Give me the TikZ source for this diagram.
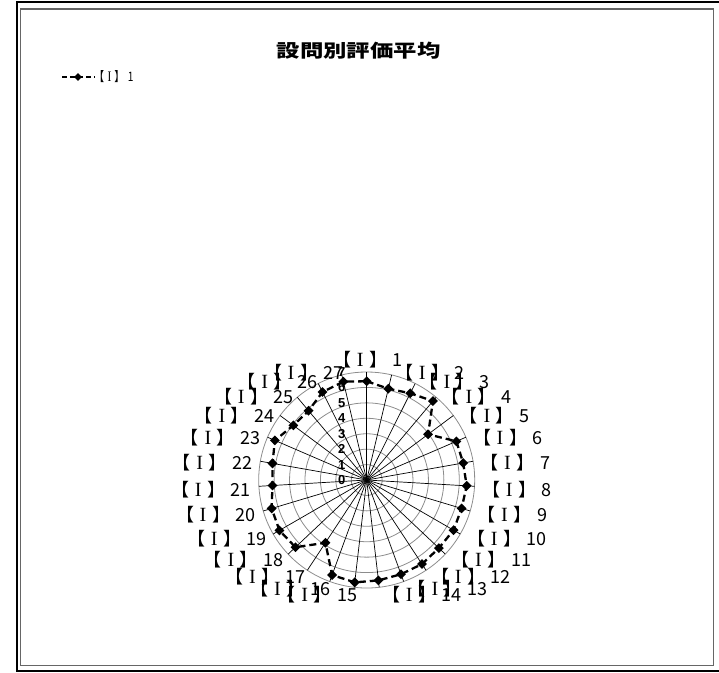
\documentclass[tikz,border=0pt]{standalone}
\usepackage{fontspec}
\usepackage{graphicx}
\usetikzlibrary{shapes.geometric}
\newfontfamily\jp[WordSpace=2.0]{Noto Sans CJK JP}
\newfontfamily\jpleg[WordSpace=1.4]{Noto Sans CJK JP}
\newfontfamily\arialfont{Liberation Sans}
\newfontfamily\serifI{Liberation Serif}
\newcommand\romI{\makebox[1em][c]{\scalebox{1.12}{\serifI I}}}
\begin{document}
\begin{tikzpicture}[x=1pt,y=-1pt,
  lab/.style={font=\jp\fontsize{18}{18}\selectfont, inner sep=0pt},
  legtxt/.style={font=\jpleg\fontsize{13}{13}\selectfont, inner sep=0pt, anchor=west},
  tick/.style={font=\arialfont\bfseries\fontsize{13}{13}\selectfont, inner sep=0pt, anchor=east},
  ring/.style={draw=black!45, line width=0.8pt},
  spoke/.style={draw=black, line width=0.7pt},
  series/.style={line width=2.3pt, dash pattern=on 7pt off 4pt},
  mk/.style={diamond, fill=black, inner sep=0pt, minimum width=10pt, minimum height=10pt},
  frame/.style={draw=black, line width=2pt},
  innerframe/.style={draw=black!60, line width=1.3pt}]
\useasboundingbox (0,0) rectangle (719,672);
\draw[frame] (16.7,2.3) rectangle (725,671);
\draw[innerframe] (20.5,9) rectangle (713.3,665.5);
% title and legend
\node[font=\jp\bfseries\fontsize{18}{18}\selectfont, inner sep=0pt] (title) at (358.5,51) {\scalebox{1.3}[1]{設問別評価平均}};
\coordinate (la) at (62,77);
\coordinate (lb) at (95,77);
\draw[series, line width=2pt, dash pattern=on 5pt off 3pt] (la) -- (lb);
\node[mk, minimum width=8pt, minimum height=8pt] (lm) at (78,77) {};
\node[legtxt] (legtext) at (94,77) {\scalebox{0.78}[1]{【\romI】 1}};
% radar grid
\coordinate (C) at (366.7,480);
\foreach \i in {1,...,7} \draw[ring] (C) circle ({\i*15.43});
\foreach \k in {1,...,27} {
  \pgfmathsetmacro\a{90-(\k-1)*360/27}
  \draw[spoke] (C) -- ({366.7+108*cos(\a)},{480-108*sin(\a)});
}
\foreach \i in {0,...,7} \node[tick] (t\i) at (345.5,{480-\i*15.43}) {\i};
% data
\foreach \k/\v in {1/6.4,2/6.08,3/6.29,4/6.68,5/4.96,6/6.33,7/6.35,8/6.49,9/6.42,10/6.5,11/6.43,12/6.52,13/6.5,14/6.55,15/6.68,16/6.55,17/4.87,18/6.35,19/6.53,20/6.43,21/6.12,22/6.2,23/6.48,24/5.93,25/5.86,26/6.38,27/6.55} {
  \pgfmathsetmacro\a{90-(\k-1)*360/27}
  \coordinate (p\k) at ({366.7+\v*15.43*cos(\a)},{480-\v*15.43*sin(\a)});
}
\draw[series] (p1) \foreach \k in {2,...,27} { -- (p\k) } -- cycle;
\foreach \k in {1,...,27} \node[mk] (m\k) at (p\k) {};
% category labels
\node[lab] (l1) at (368,360) {【\romI】 1};
\foreach \k in {2,...,14} {
  \pgfmathsetmacro\a{90-(\k-1)*360/27}
  \node[lab, anchor=west] (l\k) at ({369+113.1*cos(\a)},{482.6-112.8*sin(\a)}) {【\romI】 \k};
}
\foreach \k in {15,...,27} {
  \pgfmathsetmacro\a{90-(\k-1)*360/27}
  \node[lab, anchor=east] (l\k) at ({371.7+120.9*cos(\a)},{482.6-112.8*sin(\a)}) {【\romI】 \k};
}
\end{tikzpicture}
\end{document}
